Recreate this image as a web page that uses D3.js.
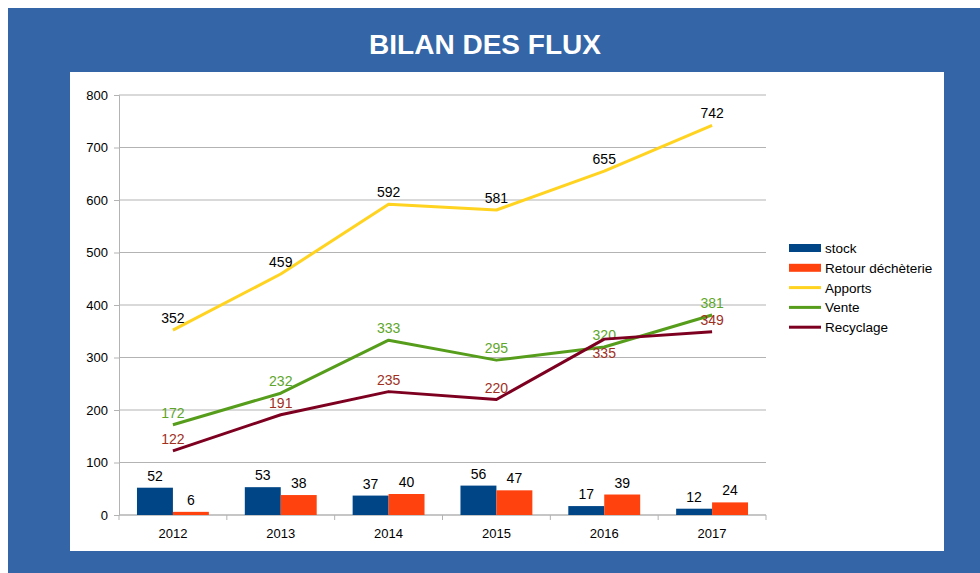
<!DOCTYPE html>
<html>
<head>
<meta charset="utf-8">
<script src="https://cdn.jsdelivr.net/npm/d3@7"></script>
<style>
  body { margin: 0; background: #ffffff; }
  svg { display: block; }
</style>
</head>
<body>
<div id="chart"></div>
<script>
// data
var years = ["2012", "2013", "2014", "2015", "2016", "2017"];
var stock = [52, 53, 37, 56, 17, 12];
var retour = [6, 38, 40, 47, 39, 24];
var apports = [352, 459, 592, 581, 655, 742];
var vente = [172, 232, 333, 295, 320, 381];
var recyclage = [122, 191, 235, 220, 335, 349];
var yTicks = [0, 100, 200, 300, 400, 500, 600, 700, 800];

var W = 980, H = 573;
var svg = d3.select("#chart").append("svg")
	.attr("width", W)
	.attr("height", H);

// blue frame + white panel
svg.append("rect").attr("x", 8).attr("y", 8).attr("width", W - 8).attr("height", H - 8).attr("fill", "#3465a6");
svg.append("rect").attr("x", 70).attr("y", 72).attr("width", 874).attr("height", 479).attr("fill", "#ffffff");

svg.append("text")
	.attr("x", 485).attr("y", 54)
	.attr("text-anchor", "middle")
	.attr("font-family", "Liberation Sans, Arial, sans-serif")
	.attr("font-weight", "bold")
	.attr("font-size", "28px")
	.attr("fill", "#ffffff")
	.text("BILAN DES FLUX");

var margin = {left: 119, top: 95, right: 766, bottom: 515};
var font = "Liberation Sans, Arial, sans-serif";

var x = d3.scaleBand().domain(years).range([margin.left, margin.right]).padding(0);
var y = d3.scaleLinear().domain([0, 800]).range([margin.bottom, margin.top]);
var bw = x.bandwidth();
var x1 = d3.scaleBand().domain(["stock", "retour"]).range([bw / 6, bw * 5 / 6]);

var g = svg.append("g");

// grid
g.selectAll(".grid").data(yTicks).enter().append("line")
	.attr("x1", margin.left).attr("x2", margin.right)
	.attr("y1", d => y(d)).attr("y2", d => y(d))
	.attr("stroke", "#b3b3b3").attr("stroke-width", 1);

// y axis
var yAxis = d3.axisLeft(y).tickValues(yTicks).tickSize(5).tickPadding(6);
var ya = g.append("g").attr("transform", "translate(" + margin.left + ",0)").call(yAxis);
ya.select(".domain").attr("stroke", "#b3b3b3");
ya.selectAll(".tick line").attr("stroke", "#b3b3b3");
ya.selectAll("text").attr("font-family", font).attr("font-size", "13px").attr("fill", "#000");

// x axis, ticks between categories
var xa = g.append("g").attr("transform", "translate(0," + margin.bottom + ")");
xa.append("line").attr("x1", margin.left).attr("x2", margin.right).attr("stroke", "#b3b3b3");
xa.selectAll(".xt").data(years.concat(["end"])).enter().append("line")
	.attr("x1", (d, i) => margin.left + i * bw).attr("x2", (d, i) => margin.left + i * bw)
	.attr("y1", 0).attr("y2", 5).attr("stroke", "#b3b3b3");
xa.selectAll(".xl").data(years).enter().append("text")
	.attr("x", d => x(d) + bw / 2).attr("y", 23)
	.attr("text-anchor", "middle")
	.attr("font-family", font).attr("font-size", "13px").attr("fill", "#000")
	.text(d => d);

// bars
var barSeries = [
	{key: "stock", values: stock, color: "#004586"},
	{key: "retour", values: retour, color: "#ff420e"}
];
barSeries.forEach(function (s) {
	g.selectAll(".bar-" + s.key).data(s.values).enter().append("rect")
		.attr("x", (d, i) => x(years[i]) + x1(s.key))
		.attr("y", d => y(d))
		.attr("width", x1.bandwidth())
		.attr("height", d => y(0) - y(d))
		.attr("fill", s.color);
	g.selectAll(".bl-" + s.key).data(s.values).enter().append("text")
		.attr("x", (d, i) => x(years[i]) + x1(s.key) + x1.bandwidth() / 2)
		.attr("y", d => y(d) - 7)
		.attr("text-anchor", "middle")
		.attr("font-family", font).attr("font-size", "14px").attr("fill", "#000")
		.text(d => d);
});

// lines
var lineSeries = [
	{key: "Apports", values: apports, color: "#ffd320", label: "#000000", below: []},
	{key: "Vente", values: vente, color: "#579d1c", label: "#5ea62a", below: []},
	{key: "Recyclage", values: recyclage, color: "#7e0021", label: "#a0301e", below: ["2016"]}
];
var line = d3.line().x((d, i) => x(years[i]) + bw / 2).y(d => y(d));
lineSeries.forEach(function (s) {
	g.append("path").datum(s.values)
		.attr("d", line)
		.attr("fill", "none")
		.attr("stroke", s.color)
		.attr("stroke-width", 3)
		.attr("stroke-linejoin", "round");
	g.selectAll(".ll-" + s.key).data(s.values).enter().append("text")
		.attr("x", (d, i) => x(years[i]) + bw / 2)
		.attr("y", (d, i) => s.below.indexOf(years[i]) >= 0 ? y(d) + 19 : y(d) - 7)
		.attr("text-anchor", "middle")
		.attr("font-family", font).attr("font-size", "14px").attr("fill", s.label)
		.text(d => d);
});

// legend
var legendItems = [
	{name: "stock", color: "#004586", type: "bar"},
	{name: "Retour déchèterie", color: "#ff420e", type: "bar"},
	{name: "Apports", color: "#ffd320", type: "line"},
	{name: "Vente", color: "#579d1c", type: "line"},
	{name: "Recyclage", color: "#7e0021", type: "line"}
];
var lg = svg.append("g").attr("transform", "translate(789,248)");
legendItems.forEach(function (it, i) {
	var row = lg.append("g").attr("transform", "translate(0," + (i * 19.8) + ")");
	if (it.type == "bar") {
		row.append("rect").attr("x", 0).attr("y", -4).attr("width", 32).attr("height", 8).attr("fill", it.color);
	} else {
		row.append("rect").attr("x", 0).attr("y", -1.5).attr("width", 32).attr("height", 3).attr("fill", it.color);
	}
	row.append("text")
		.attr("x", 36).attr("y", 5)
		.attr("font-family", font).attr("font-size", "13.5px").attr("fill", "#000")
		.text(it.name);
});
</script>
</body>
</html>
